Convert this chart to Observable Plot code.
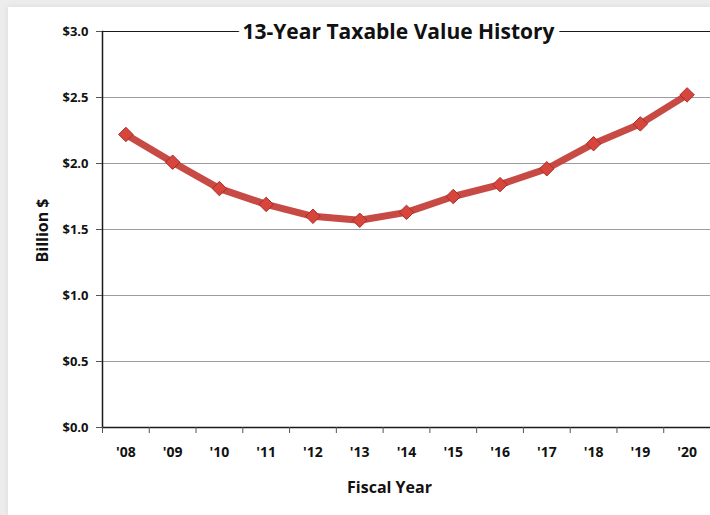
<!DOCTYPE html>
<html>
<head>
<meta charset="utf-8">
<script src="https://cdn.jsdelivr.net/npm/d3@7"></script>
<script src="https://cdn.jsdelivr.net/npm/@observablehq/plot@0.6"></script>
<style>
  html, body { margin: 0; padding: 0; width: 710px; height: 515px; overflow: hidden; background: #ececec; }
  #card { position: absolute; left: 8px; top: 7px; right: 0; bottom: 0; background: #fff; box-shadow: 0 0 6px rgba(0,0,0,0.08); }
  #chart { position: absolute; left: 0; top: 0; }
</style>
</head>
<body>
<div id="card"></div>
<div id="chart"></div>
<script>
const fiscalYears = [2008, 2009, 2010, 2011, 2012, 2013, 2014, 2015, 2016, 2017, 2018, 2019, 2020];
const tickLabels = ["'08", "'09", "'10", "'11", "'12", "'13", "'14", "'15", "'16", "'17", "'18", "'19", "'20"];
const taxableValue = [2.22, 2.01, 1.81, 1.69, 1.60, 1.57, 1.63, 1.75, 1.84, 1.96, 2.15, 2.30, 2.52];
const yTicks = [0, 0.5, 1.0, 1.5, 2.0, 2.5, 3.0];
const gridValues = [0.5, 1.0, 1.5, 2.0, 2.5];
const titleText = "13-Year Taxable Value History";
const xTitle = "Fiscal Year";
const yTitle = "Billion $";

const data = fiscalYears.map((yr, i) => ({year: yr, value: taxableValue[i]}));
const boundaries = fiscalYears.map(y => y - 0.5).concat([fiscalYears[fiscalYears.length - 1] + 0.5]);

const chart = Plot.plot({
  width: 710,
  height: 515,
  marginLeft: 102,
  marginRight: 0,
  marginTop: 31,
  marginBottom: 88,
  style: {background: "transparent", fontFamily: "'Open Sans', sans-serif", color: "#111"},
  x: {type: "linear", domain: [fiscalYears[0] - 0.5, fiscalYears[fiscalYears.length - 1] + 0.5]},
  y: {domain: [0, 3]},
  marks: [
    Plot.ruleY(gridValues, {stroke: "#9c9c9c", strokeWidth: 1}),
    Plot.ruleY([3], {stroke: "#1a1a1a", strokeWidth: 1.2}),
    Plot.ruleY([0], {stroke: "#1a1a1a", strokeWidth: 1.5}),
    Plot.frame({anchor: "left", stroke: "#1a1a1a", strokeWidth: 1.5}),
    Plot.axisY({ticks: yTicks, tickFormat: d => "$" + d.toFixed(1), tickSize: 6, tickPadding: 8,
      fontSize: 13, fontWeight: 700, label: null, stroke: "#555"}),
    Plot.axisX({ticks: fiscalYears, tickFormat: (d, i) => tickLabels[i], tickSize: 0, tickPadding: 20,
      fontSize: 14, fontWeight: 700, label: null}),
    Plot.axisX({ticks: boundaries, tickFormat: () => "", tickSize: 6, label: null, stroke: "#555"}),
    Plot.text([xTitle], {frameAnchor: "bottom", dy: 65, dx: -17, fontSize: 16, fontWeight: 700}),
    Plot.text([yTitle], {frameAnchor: "left", textAnchor: "middle", dx: -60, dy: 1, rotate: -90, fontSize: 16, fontWeight: 700}),
    Plot.line(data, {x: "year", y: "value", stroke: "#c4403a", strokeWidth: 7, strokeOpacity: 0.95}),
    Plot.dot(data, {x: "year", y: "value", symbol: "diamond2", r: 6.5, fill: "#d8453d", stroke: "#a52d28", strokeWidth: 1}),
    Plot.text([titleText], {frameAnchor: "top", lineAnchor: "middle", dx: -8, dy: 1, fontSize: 21, fontWeight: 700,
      fill: "#111", stroke: "white", strokeWidth: 12, paintOrder: "stroke"})
  ]
});
document.getElementById("chart").appendChild(chart);
</script>
</body>
</html>
